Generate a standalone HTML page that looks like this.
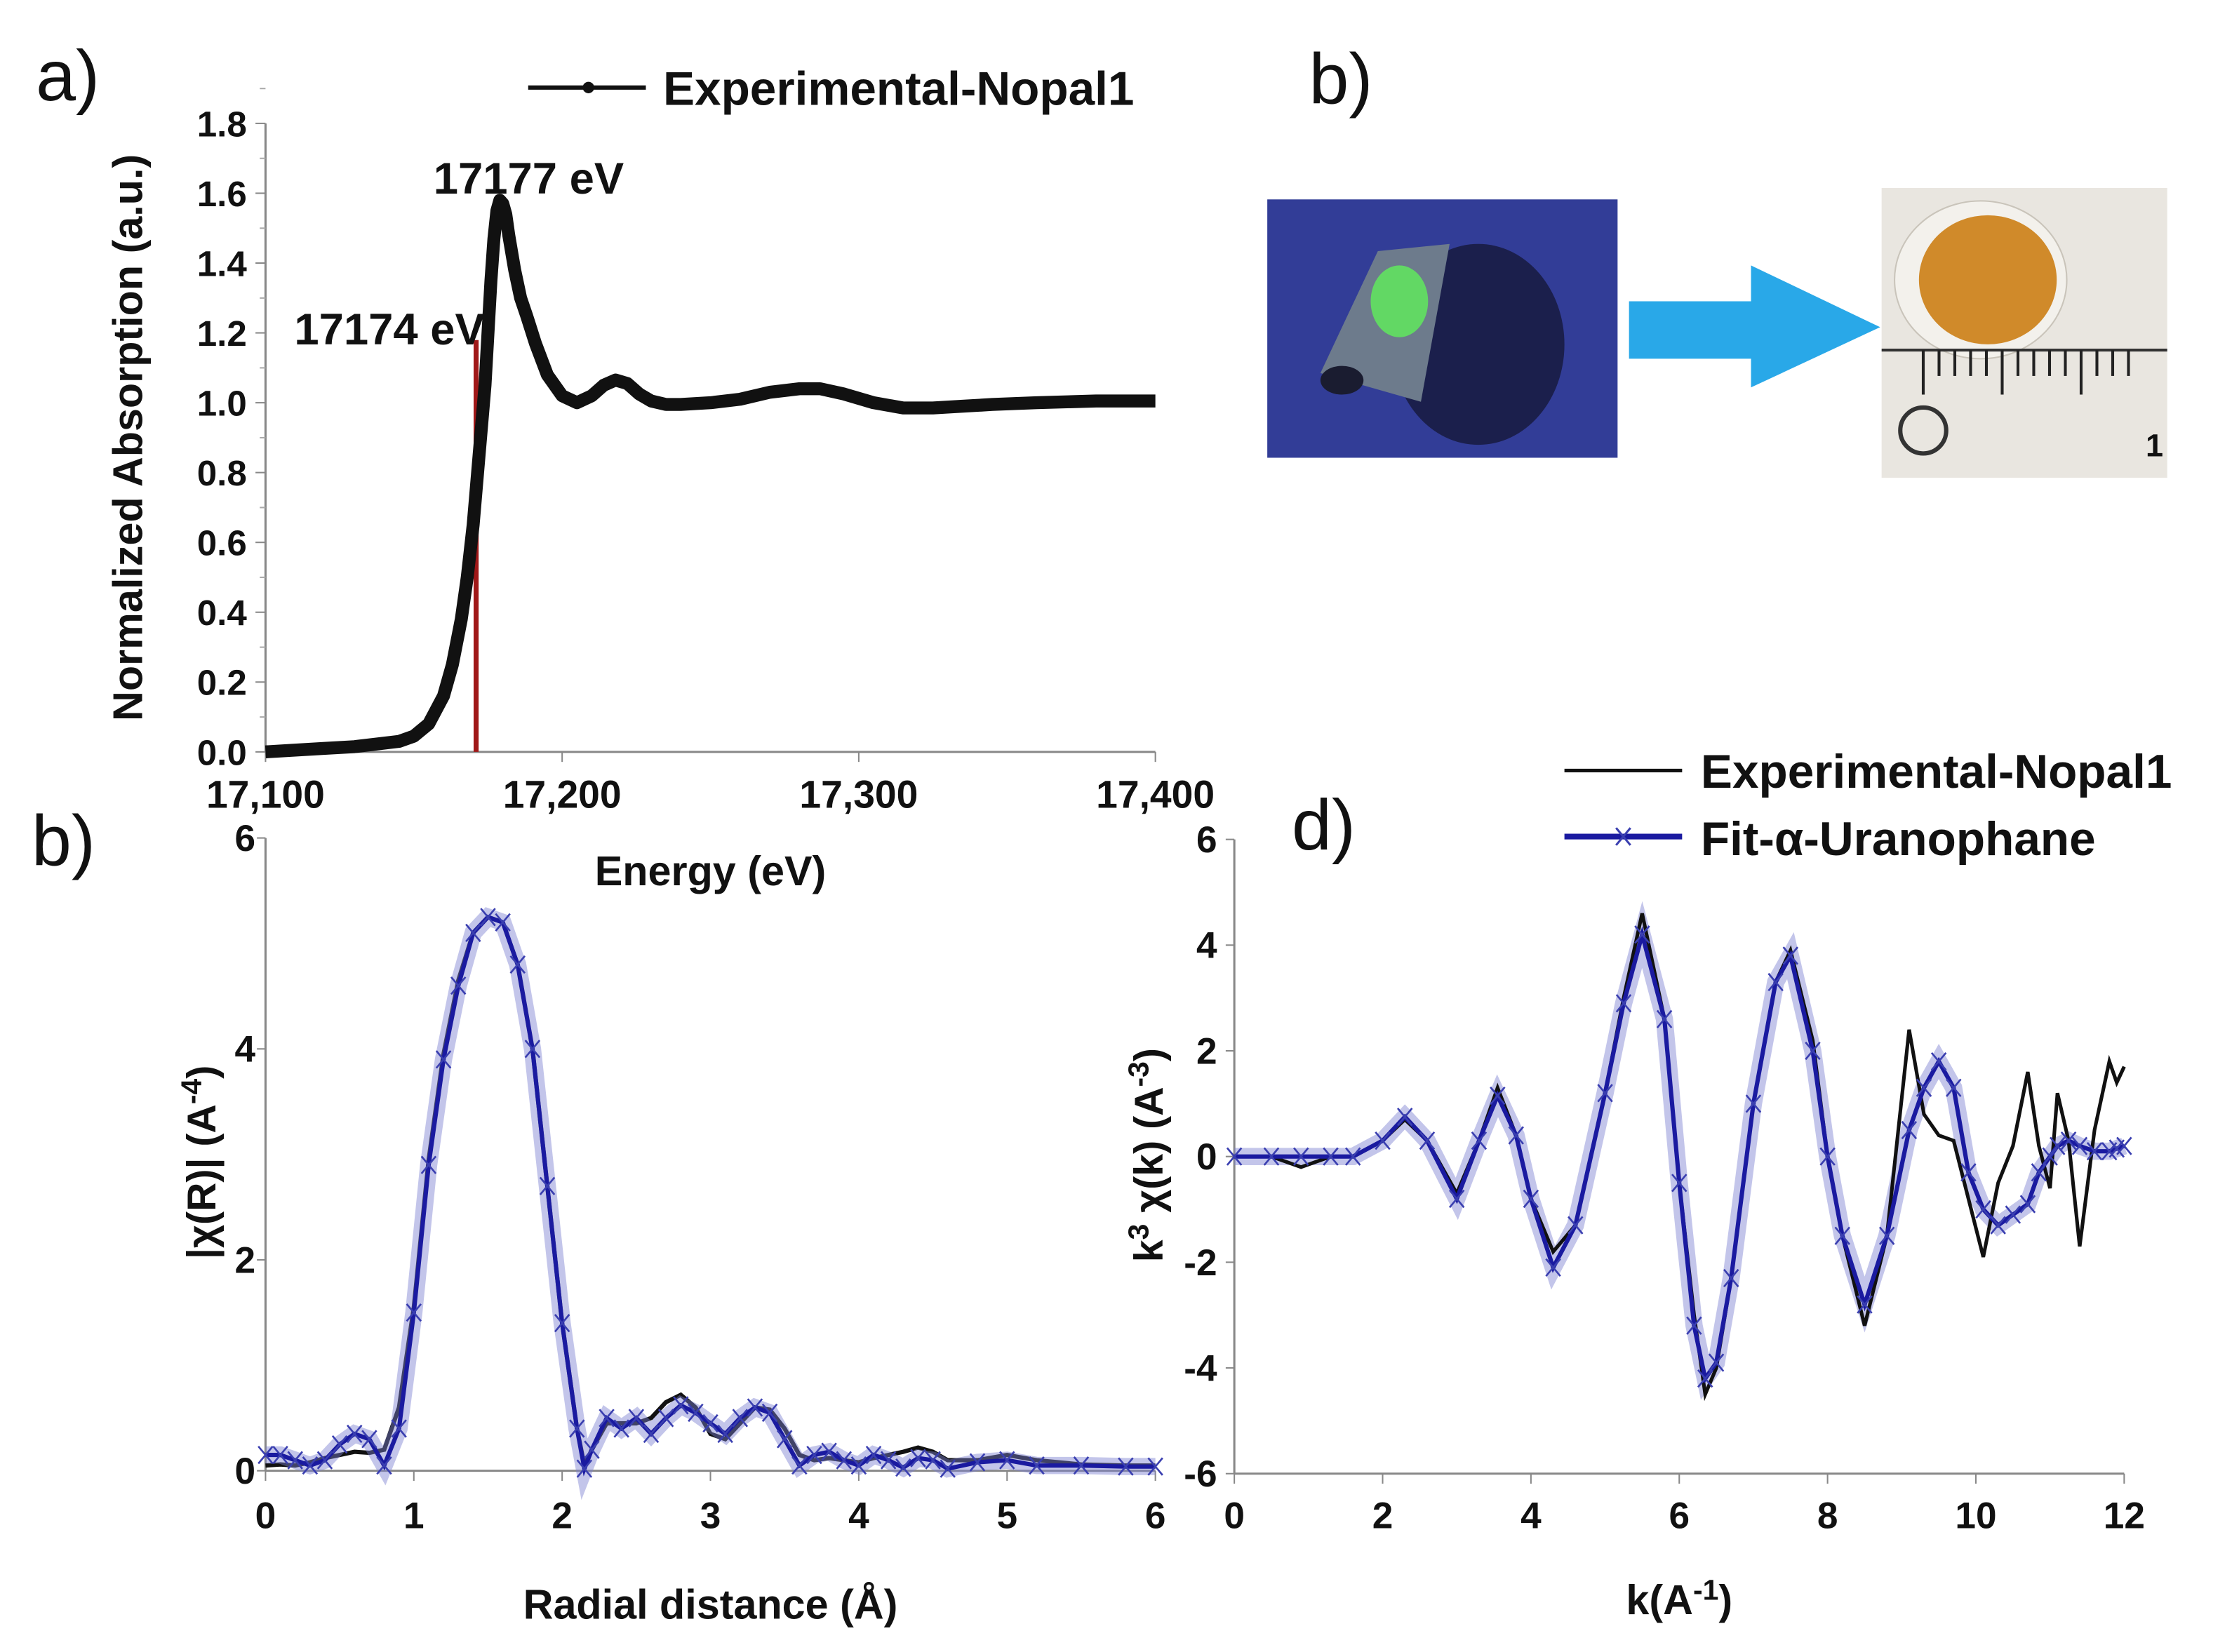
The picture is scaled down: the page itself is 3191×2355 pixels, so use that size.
<!DOCTYPE html>
<html><head><meta charset="utf-8">
<style>
html,body{margin:0;padding:0;background:#fff;}
svg{display:block;font-family:"Liberation Sans",sans-serif;}
.t{font-weight:bold;fill:#111;}
</style></head>
<body>
<svg id="fig" width="3191" height="2355" viewBox="0 0 1560 1151.3" preserveAspectRatio="none" xmlns="http://www.w3.org/2000/svg">
<g id="pa"></g>
<g id="pb">
  <text x="912" y="72" font-size="50" fill="#111">b)</text>
  <rect x="883" y="139" width="244" height="180" fill="#2b3a8e"/>
  <rect x="883" y="139" width="244" height="180" fill="#3a3fa0" opacity="0.5"/>
  <ellipse cx="1030" cy="240" rx="60" ry="70" fill="#15183a" opacity="0.8"/>
  <path d="M920,260 L960,175 L1010,170 L990,280 Z" fill="#6d7b8c"/>
  <ellipse cx="935" cy="265" rx="15" ry="10" fill="#1a1c30"/>
  <ellipse cx="975" cy="210" rx="20" ry="25" fill="#5ff05a" opacity="0.8"/>
  <path d="M1135,210 L1220,210 L1220,185 L1310,228 L1220,270 L1220,250 L1135,250 Z" fill="#29a8e8"/>
  <rect x="1311" y="131" width="199" height="202" fill="#e9e6e0"/>
  <ellipse cx="1380" cy="195" rx="60" ry="55" fill="#f3f1ec" stroke="#c9c4ba"/>
  <ellipse cx="1385" cy="195" rx="48" ry="45" fill="#d08a2a"/>
  <line x1="1311" y1="244" x2="1510" y2="244" stroke="#333" stroke-width="2"/>
  <g id="ruler" stroke="#222" stroke-width="2"></g>
  <circle cx="1340" cy="300" r="16" fill="none" stroke="#333" stroke-width="3"/>
  <text x="1495" y="318" font-size="22" class="t">1</text>
</g>
<g id="pc"></g>
<g id="pd"></g>
</svg>
<script>
// Panel a data
const aEnergy=[17100,17110,17120,17130,17140,17145,17150,17155,17160,17163,17166,17168,17170,17172,17174,17175,17176,17177,17178,17179,17180,17181,17182,17184,17186,17188,17191,17195,17200,17205,17210,17214,17218,17222,17226,17230,17235,17240,17250,17260,17270,17280,17287,17295,17305,17315,17325,17335,17345,17360,17380,17400];
const aAbs=[0.0,0.005,0.01,0.015,0.025,0.03,0.045,0.08,0.16,0.25,0.38,0.5,0.65,0.85,1.05,1.2,1.35,1.47,1.55,1.58,1.57,1.54,1.48,1.38,1.3,1.25,1.17,1.08,1.02,1.0,1.02,1.05,1.065,1.055,1.025,1.005,0.995,0.995,1.0,1.01,1.03,1.04,1.04,1.025,1.0,0.985,0.985,0.99,0.995,1.0,1.005,1.005];
const aYTicks=["0.0","0.2","0.4","0.6","0.8","1.0","1.2","1.4","1.6","1.8"];
const aXTicks=["17,100","17,200","17,300","17,400"];
// Panel c (FT) data
const cR=[0,0.1,0.2,0.3,0.4,0.5,0.6,0.7,0.8,0.9,1.0,1.1,1.2,1.3,1.4,1.5,1.6,1.7,1.8,1.9,2.0,2.1,2.15,2.2,2.3,2.4,2.5,2.6,2.7,2.8,2.9,3.0,3.1,3.2,3.3,3.4,3.5,3.6,3.7,3.8,3.9,4.0,4.1,4.2,4.3,4.4,4.5,4.6,4.8,5.0,5.2,5.5,5.8,6.0];
const cExp=[0.05,0.06,0.05,0.08,0.12,0.15,0.18,0.17,0.2,0.6,1.55,2.95,3.95,4.65,5.1,5.25,5.2,4.8,4.0,2.7,1.4,0.4,0.05,0.2,0.45,0.45,0.45,0.5,0.65,0.72,0.6,0.35,0.3,0.45,0.6,0.58,0.4,0.15,0.1,0.12,0.1,0.08,0.12,0.15,0.18,0.22,0.18,0.1,0.1,0.15,0.1,0.06,0.05,0.05];
const cFit=[0.15,0.15,0.1,0.05,0.1,0.25,0.35,0.3,0.05,0.4,1.5,2.9,3.9,4.6,5.1,5.25,5.2,4.8,4.0,2.7,1.4,0.4,0.02,0.2,0.5,0.4,0.5,0.35,0.5,0.62,0.55,0.45,0.35,0.5,0.6,0.55,0.3,0.05,0.15,0.18,0.1,0.05,0.15,0.1,0.03,0.12,0.1,0.02,0.08,0.1,0.05,0.05,0.04,0.04];
const cXTicks=["0","1","2","3","4","5","6"];
const cYTicks=["0","2","4","6"];
// Panel d data
const dK=[0,0.5,0.9,1.3,1.6,2.0,2.3,2.6,3.0,3.3,3.55,3.8,4.0,4.3,4.6,5.0,5.25,5.5,5.8,6.0,6.2,6.35,6.5,6.7,7.0,7.3,7.5,7.8,8.0,8.2,8.5,8.8,9.1,9.3,9.5,9.7,9.9,10.1,10.3,10.5,10.7,10.85,11.0,11.1,11.25,11.4,11.6,11.8,11.9,12.0];
const dExp=[0,0,-0.2,0,0,0.3,0.7,0.3,-0.7,0.3,1.3,0.4,-0.8,-1.8,-1.3,1.2,3.0,4.6,2.6,-0.5,-3.0,-4.5,-4.0,-2.3,1.0,3.3,3.9,2.2,0.0,-1.5,-3.2,-1.5,2.4,0.8,0.4,0.3,-0.8,-1.9,-0.5,0.2,1.6,0.2,-0.6,1.2,0.3,-1.7,0.5,1.8,1.4,1.7];
const dFit=[0,0,0,0,0,0.3,0.75,0.3,-0.8,0.3,1.15,0.4,-0.8,-2.1,-1.3,1.2,2.9,4.2,2.6,-0.5,-3.2,-4.2,-3.9,-2.3,1.0,3.3,3.8,2.0,0.0,-1.5,-2.8,-1.5,0.5,1.3,1.8,1.3,-0.3,-1.0,-1.3,-1.1,-0.9,-0.3,0,0.2,0.3,0.2,0.1,0.1,0.15,0.2];
const dXTicks=["0","2","4","6","8","10","12"];
const dYTicks=["-6","-4","-2","0","2","4","6"];

const NS="http://www.w3.org/2000/svg";
function mk(parent,tag,attrs,text){const e=document.createElementNS(NS,tag);for(const k in attrs)e.setAttribute(k,attrs[k]);if(text!==undefined)e.textContent=text;parent.appendChild(e);return e;}

// ---------- Panel a ----------
const pa=document.getElementById('pa');
const ax=v=>185+(v-17100)*620/300, ay=v=>524-v*(438/1.8);
let e;
e=mk(pa,'line',{x1:185,y1:86,x2:185,y2:524,stroke:'#888','stroke-width':1.5});


e=mk(pa,'line',{x1:185,y1:524,x2:805,y2:524,stroke:'#888','stroke-width':1.5});


aYTicks.forEach(s=>{const v=parseFloat(s),y=ay(v);
 mk(pa,'line',{x1:178,y1:y,x2:185,y2:y,stroke:'#888'});
 mk(pa,'line',{x1:181,y1:y-24.3,x2:185,y2:y-24.3,stroke:'#aaa'});
 e=mk(pa,'text',{x:172,y:y+9,'font-size':25,'text-anchor':'end',class:'t'},s);
 
 });
aXTicks.forEach(s=>{const v=parseFloat(s.replace(',','')),x=ax(v);
 mk(pa,'line',{x1:x,y1:524,x2:x,y2:531,stroke:'#888'});
 e=mk(pa,'text',{x:x,y:563,'font-size':27,'text-anchor':'middle',class:'t'},s);
 
 });
e=mk(pa,'line',{x1:ax(17171),y1:237,x2:ax(17171),y2:524,stroke:'#a01818','stroke-width':3.5});


e=mk(pa,'polyline',{points:aEnergy.map((v,i)=>ax(v)+','+ay(aAbs[i])).join(' '),fill:'none',stroke:'#111','stroke-width':9,'stroke-linejoin':'round'});


e=mk(pa,'text',{x:25,y:70,'font-size':50,fill:'#111'},'a)');


e=mk(pa,'text',{x:302,y:135,'font-size':31,class:'t'},'17177 eV');


e=mk(pa,'text',{x:205,y:240,'font-size':31,class:'t'},'17174 eV');


e=mk(pa,'text',{x:495,y:617,'font-size':29,'text-anchor':'middle',class:'t'},'Energy (eV)');


e=mk(pa,'text',{x:0,y:0,'font-size':29,'text-anchor':'middle',class:'t',transform:'translate(99,305) rotate(-90)'},'Normalized Absorption (a.u.)');


mk(pa,'line',{x1:368,y1:61,x2:450,y2:61,stroke:'#111','stroke-width':3});
mk(pa,'circle',{cx:410,cy:61,r:4,fill:'#111'});
e=mk(pa,'text',{x:462,y:73,'font-size':33,class:'t'},'Experimental-Nopal1');



// ruler ticks
const ru=document.getElementById('ruler');
for(let i=0;i<14;i++){const x=1340+i*11;mk(ru,'line',{x1:x,y1:244,x2:x,y2:(i%5==0)?275:262});}

// ---------- Panel c ----------
const pc=document.getElementById('pc');
const cx=v=>185+v*620/6, cy=v=>1025-v*(441/6);
mk(pc,'line',{x1:185,y1:584,x2:185,y2:1025,stroke:'#888','stroke-width':1.5});
mk(pc,'line',{x1:185,y1:1025,x2:805,y2:1025,stroke:'#888','stroke-width':1.5});
cYTicks.forEach(s=>{const y=cy(+s);mk(pc,'line',{x1:179,y1:y,x2:185,y2:y,stroke:'#888'});
 e=mk(pc,'text',{x:178,y:y+9,'font-size':26,'text-anchor':'end',class:'t'},s);
 
 });
cXTicks.forEach(s=>{const x=cx(+s);mk(pc,'line',{x1:x,y1:1025,x2:x,y2:1032,stroke:'#888'});
 e=mk(pc,'text',{x:x,y:1065,'font-size':26,'text-anchor':'middle',class:'t'},s);
 
 });
e=mk(pc,'polyline',{points:cR.map((v,i)=>cx(v)+','+cy(cExp[i])).join(' '),fill:'none',stroke:'#111','stroke-width':3});


e=mk(pc,'polyline',{points:cR.map((v,i)=>cx(v)+','+cy(cFit[i])).join(' '),fill:'none',stroke:'#7a7fd0','stroke-width':12,opacity:0.45});
e=mk(pc,'polyline',{points:cR.map((v,i)=>cx(v)+','+cy(cFit[i])).join(' '),fill:'none',stroke:'#1a1aa0','stroke-width':3});


cR.forEach((v,i)=>{const x=cx(v),y=cy(cFit[i]);mk(pc,'path',{d:`M${x-5},${y-6}L${x+5},${y+6}M${x-5},${y+6}L${x+5},${y-6}`,stroke:'#3a3fb0','stroke-width':1.3});});
e=mk(pc,'text',{x:22,y:603,'font-size':50,fill:'#111'},'b)');


e=mk(pc,'text',{x:495,y:1128,'font-size':29,'text-anchor':'middle',class:'t'},'Radial distance (Å)');


e=mk(pc,'text',{x:0,y:0,'font-size':28,'text-anchor':'middle',class:'t',transform:'translate(150,810) rotate(-90)'});
e.innerHTML='|χ(R)| (A<tspan dy="-10" font-size="20">-4</tspan><tspan dy="10">)</tspan>';



// ---------- Panel d ----------
const pd=document.getElementById('pd');
const dx=v=>860+v*620/12, dy=v=>806-v*(442/12);
mk(pd,'line',{x1:860,y1:585,x2:860,y2:1027,stroke:'#888','stroke-width':1.5});
mk(pd,'line',{x1:860,y1:1027,x2:1480,y2:1027,stroke:'#888','stroke-width':1.5});
dYTicks.forEach(s=>{const y=dy(+s);mk(pd,'line',{x1:854,y1:y,x2:860,y2:y,stroke:'#888'});
 e=mk(pd,'text',{x:848,y:y+9,'font-size':26,'text-anchor':'end',class:'t'},s);
 
 });
dXTicks.forEach(s=>{const x=dx(+s);mk(pd,'line',{x1:x,y1:1027,x2:x,y2:1034,stroke:'#888'});
 e=mk(pd,'text',{x:x,y:1065,'font-size':26,'text-anchor':'middle',class:'t'},s);
 
 });
e=mk(pd,'polyline',{points:dK.map((v,i)=>dx(v)+','+dy(dFit[i])).join(' '),fill:'none',stroke:'#7a7fd0','stroke-width':12,opacity:0.45});
e=mk(pd,'polyline',{points:dK.map((v,i)=>dx(v)+','+dy(dExp[i])).join(' '),fill:'none',stroke:'#111','stroke-width':2.5});


e=mk(pd,'polyline',{points:dK.map((v,i)=>dx(v)+','+dy(dFit[i])).join(' '),fill:'none',stroke:'#1a1aa0','stroke-width':3});


dK.forEach((v,i)=>{const x=dx(v),y=dy(dFit[i]);mk(pd,'path',{d:`M${x-5},${y-6}L${x+5},${y+6}M${x-5},${y+6}L${x+5},${y-6}`,stroke:'#3a3fb0','stroke-width':1.3});});
e=mk(pd,'text',{x:900,y:592,'font-size':50,fill:'#111'},'d)');


e=mk(pd,'text',{x:1170,y:1125,'font-size':29,'text-anchor':'middle',class:'t'});
e.innerHTML='k(A<tspan dy="-10" font-size="20">-1</tspan><tspan dy="10">)</tspan>';


e=mk(pd,'text',{x:0,y:0,'font-size':28,'text-anchor':'middle',class:'t',transform:'translate(810,805) rotate(-90)'});
e.innerHTML='k<tspan dy="-10" font-size="20">3</tspan><tspan dy="10"> χ(k) (A</tspan><tspan dy="-10" font-size="20">-3</tspan><tspan dy="10">)</tspan>';


mk(pd,'line',{x1:1090,y1:537,x2:1172,y2:537,stroke:'#111','stroke-width':2.5});
e=mk(pd,'text',{x:1185,y:549,'font-size':33,class:'t'},'Experimental-Nopal1');


mk(pd,'line',{x1:1090,y1:583,x2:1172,y2:583,stroke:'#1a1aa0','stroke-width':4});
mk(pd,'path',{d:'M1126,577L1136,589M1126,589L1136,577',stroke:'#3a3fb0','stroke-width':1.5});
e=mk(pd,'text',{x:1185,y:596,'font-size':33,class:'t'},'Fit-α-Uranophane');


</script>
</body></html>
